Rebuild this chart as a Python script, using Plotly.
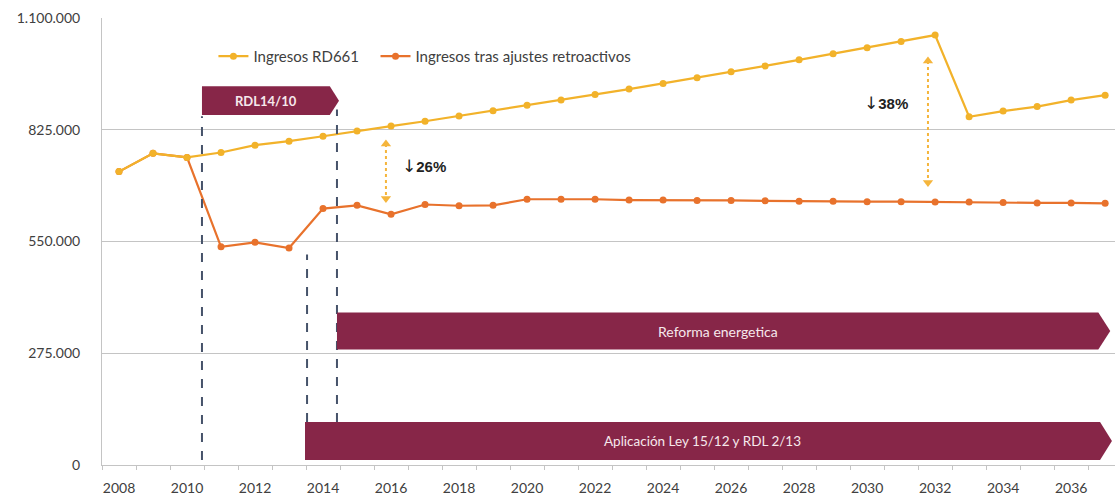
import plotly.graph_objects as go

# Años del eje horizontal
years = list(range(2008, 2038))
tick_years = list(range(2008, 2037, 2))

# Ingresos según RD661 (euros)
ingresos_rd661 = [722000, 767000, 757000, 769000, 787000, 797000, 809000, 822000, 834000,
                  846000, 859000, 872000, 885000, 898000, 912000, 925000, 939000, 953000,
                  968000, 982000, 997000, 1012000, 1027000, 1042000, 1058000,
                  857000, 871000, 882000, 898000, 910000]

# Ingresos tras los ajustes retroactivos (euros)
ingresos_ajustados = [722000, 767000, 757000,
                      537000, 548000, 534000, 631000, 639000, 617000,
                      641000, 638000, 639000, 654000, 654000, 654000, 652000,
                      652000, 651000, 651000, 650000, 649000, 649000, 648000,
                      648000, 647000, 647000, 646000, 645000, 645000, 644000]

y_ticks = [0, 275000, 550000, 825000, 1100000]

YELLOW = "#F2B22A"
ORANGE = "#E8722C"
MAROON = "#872648"
DASH = "#46536A"
GRID = "#C4C4C4"
FONT = "Lato, 'Open Sans', sans-serif"

fig = go.Figure()

fig.add_trace(go.Scatter(
    x=years, y=ingresos_ajustados, name="Ingresos tras ajustes retroactivos",
    mode="lines+markers", line=dict(color=ORANGE, width=2.2),
    marker=dict(color=ORANGE, size=7), legend="legend2"))
fig.add_trace(go.Scatter(
    x=years, y=ingresos_rd661, name="Ingresos RD661",
    mode="lines+markers", line=dict(color=YELLOW, width=2.2),
    marker=dict(color=YELLOW, size=7), legend="legend"))

# Flechas de diferencia (punteadas, doble punta)
for xa, ytop, ybot in [(2015.85, 790000, 656000), (2031.79, 994000, 695000)]:
    fig.add_trace(go.Scatter(
        x=[xa, xa], y=[ytop, ybot], mode="lines+markers", showlegend=False,
        hoverinfo="skip",
        line=dict(color="#F5B53C", width=2, dash="dot"),
        marker=dict(color="#F5B53C", size=9,
                    symbol=["triangle-up", "triangle-down"])))


def arrow_path(x0, x1, tip, y0, y1):
    ym = (y0 + y1) / 2
    return f"M{x0},{y0} L{x1},{y0} L{tip},{ym} L{x1},{y1} L{x0},{y1} Z"


shapes = []
# Líneas discontinuas verticales
for xv, y0, y1 in [(2010.44, 12000, 858000), (2013.53, 106000, 518000), (2014.41, 106000, 875000)]:
    shapes.append(dict(type="line", xref="x", yref="y", x0=xv, x1=xv, y0=y0, y1=y1,
                       line=dict(color=DASH, width=2, dash="dash"), layer="above"))

# Flechas de periodos normativos
arrows = [
    (2010.44, 2014.2, 2014.47, 861000, 932000, "<b>RDL14/10</b>", 13),
    (2014.41, 2036.8, 2037.15, 284000, 375000, "Reforma energetica", 14),
    (2013.47, 2036.85, 2037.2, 12000, 106000, "Aplicación Ley 15/12 y RDL 2/13", 13.5),
]
annotations = []
for x0, x1, tip, y0, y1, label, fs in arrows:
    shapes.append(dict(type="path", xref="x", yref="y", path=arrow_path(x0, x1, tip, y0, y1),
                       fillcolor=MAROON, line=dict(width=0), layer="above"))
    annotations.append(dict(x=(x0 + x1) / 2, y=(y0 + y1) / 2, xref="x", yref="y",
                            text=label, showarrow=False,
                            font=dict(family=FONT, size=fs, color="#F6E8EC")))

PCT_FONT = "'Liberation Sans', Arial, sans-serif"
for xa, ya, pct in [(2016.97, 735000, "26%"), (2030.56, 890000, "38%")]:
    annotations.append(dict(
        x=xa, y=ya, xref="x", yref="y", showarrow=False,
        text=f"<span style='font-family:DejaVu Sans;font-size:17px'>↓</span><b>{pct}</b>",
        font=dict(family=PCT_FONT, size=15, color="#222222")))

legend_style = dict(orientation="h", y=0.914, xanchor="left", yanchor="middle",
                    font=dict(family=FONT, size=15, color="#404040"),
                    bgcolor="rgba(0,0,0,0)")

fig.update_layout(
    width=1115, height=499,
    margin=dict(l=102, r=0, t=18, b=34),
    paper_bgcolor="white", plot_bgcolor="white",
    separators=",.",
    font=dict(family=FONT, size=14, color="#404040"),
    shapes=shapes, annotations=annotations,
    showlegend=True,
    legend=dict(x=0.110, **legend_style),
    legend2=dict(x=0.270, **legend_style),
)

fig.update_xaxes(
    range=[2007.5, 2037.29], tickmode="array", tickvals=tick_years,
    ticktext=[str(y) for y in tick_years], ticks="", showgrid=False,
    showline=True, linecolor=GRID, linewidth=1, ticklabelstandoff=10,
    tickfont=dict(size=14, color="#404040"),
    minor=dict(tick0=2007.5, dtick=1, ticks="outside", ticklen=4, tickcolor=GRID, showgrid=False),
    zeroline=False,
)
fig.update_yaxes(
    range=[0, 1100000], tickmode="array", tickvals=y_ticks, tickformat=",d",
    showgrid=True, gridcolor=GRID, gridwidth=1, ticks="",
    showline=True, linecolor=GRID, linewidth=1, zeroline=False,
    ticklabelstandoff=18, tickfont=dict(size=14, color="#404040"),
)

fig.write_html("out.html")
